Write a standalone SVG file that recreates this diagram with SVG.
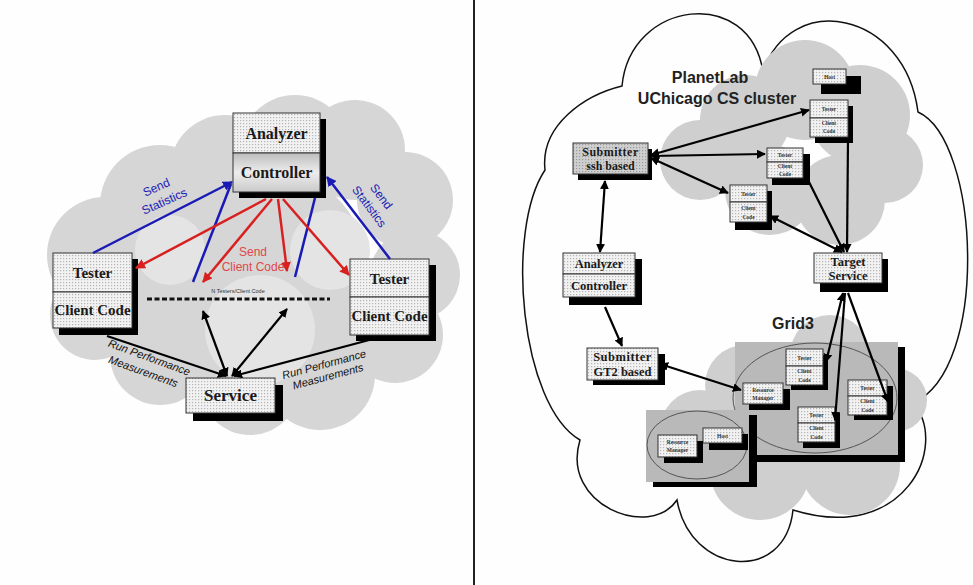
<svg xmlns="http://www.w3.org/2000/svg" width="973" height="585" viewBox="0 0 973 585">
<defs>
<pattern id="dots" width="3" height="3" patternUnits="userSpaceOnUse"><rect width="3" height="3" fill="#f2f2f2"/><rect width="1.2" height="1.2" fill="#b4b4b4"/></pattern>
<pattern id="dotsD" width="3" height="3" patternUnits="userSpaceOnUse"><rect width="3" height="3" fill="#cfcfcf"/><rect width="1.2" height="1.2" fill="#9a9a9a"/></pattern>
<linearGradient id="ctrl" x1="0" y1="0" x2="0" y2="1"><stop offset="0" stop-color="#bdbdbd"/><stop offset="0.5" stop-color="#ededed"/><stop offset="1" stop-color="#c9c9c9"/></linearGradient>
<marker id="ab" viewBox="0 0 10 10" refX="9" refY="5" markerWidth="9" markerHeight="9" markerUnits="userSpaceOnUse" orient="auto-start-reverse"><path d="M0,0 L10,5 L0,10 z" fill="#000"/></marker>
<marker id="abl" viewBox="0 0 10 10" refX="9" refY="5" markerWidth="10" markerHeight="10" markerUnits="userSpaceOnUse" orient="auto"><path d="M0,0 L10,5 L0,10 z" fill="#1a1ab4"/></marker>
<marker id="ar" viewBox="0 0 10 10" refX="9" refY="5" markerWidth="10" markerHeight="10" markerUnits="userSpaceOnUse" orient="auto"><path d="M0,0 L10,5 L0,10 z" fill="#d82020"/></marker>
</defs>
<style>
.box{fill:url(#dots);stroke:#333;stroke-width:1}
.boxd{fill:url(#dotsD);stroke:#333;stroke-width:1}
.sh{fill:#000}
.big{font-family:"Liberation Serif",serif;font-weight:bold;fill:#1a1a1a;text-anchor:middle}
.sm{font-family:"Liberation Serif",serif;font-weight:bold;fill:#333;text-anchor:middle;font-size:5.5px}
.lbl{font-family:"Liberation Sans",Arial,sans-serif;text-anchor:middle}
.blue{stroke:#1a1ab4;stroke-width:2.5;fill:none}
.red{stroke:#d82020;stroke-width:2.5;fill:none}
.blk{stroke:#000;stroke-width:2.2;fill:none}
.cl{fill:#d6d6d6}
.cl2{fill:#e4e4e4}
.cg{fill:#cfcfcf}
</style>
<rect width="973" height="585" fill="#fdfefd"/>

<!-- left cloud -->
<g id="left-cloud">
<circle class="cl" cx="105" cy="255" r="58"/>
<circle class="cl" cx="160" cy="205" r="60"/>
<circle class="cl" cx="225" cy="170" r="55"/>
<circle class="cl" cx="295" cy="150" r="55"/>
<circle class="cl" cx="355" cy="150" r="50"/>
<circle class="cl" cx="405" cy="200" r="48"/>
<circle class="cl" cx="415" cy="275" r="45"/>
<circle class="cl" cx="395" cy="335" r="48"/>
<circle class="cl" cx="320" cy="375" r="55"/>
<circle class="cl" cx="250" cy="385" r="50"/>
<circle class="cl" cx="160" cy="355" r="50"/>
<circle class="cl" cx="95" cy="315" r="45"/>
<circle class="cl" cx="250" cy="280" r="120"/>
<circle class="cl2" cx="260" cy="330" r="55"/>
<circle class="cl2" cx="330" cy="250" r="40"/>
<circle class="cl2" cx="170" cy="250" r="35"/>
</g>

<!-- divider -->
<line x1="474" y1="0" x2="474" y2="585" stroke="#222" stroke-width="2"/>

<!-- right outlined cloud -->
<path id="right-cloud" d="M545,170 C540,125 585,95 622,86 C630,0 750,-15 763,72 C790,-10 905,10 918,112 C980,140 990,370 913,403 C950,445 905,545 793,510 C785,585 690,575 677,500 C650,540 560,505 580,440 C520,405 505,230 545,170 Z" fill="#fdfefd" stroke="#111" stroke-width="1.5"/>
<g id="planetlab-cloud">
<circle class="cg" cx="700" cy="160" r="40"/>
<circle class="cg" cx="745" cy="120" r="45"/>
<circle class="cg" cx="805" cy="90" r="50"/>
<circle class="cg" cx="860" cy="115" r="50"/>
<circle class="cg" cx="885" cy="165" r="38"/>
<circle class="cg" cx="840" cy="200" r="45"/>
<circle class="cg" cx="770" cy="190" r="45"/>
</g>
<g id="grid3-cloud">
<circle class="cg" cx="700" cy="430" r="40"/>
<circle class="cg" cx="760" cy="470" r="50"/>
<circle class="cg" cx="850" cy="465" r="50"/>
<circle class="cg" cx="895" cy="400" r="32"/>
<circle class="cg" cx="830" cy="355" r="40"/>
<circle class="cg" cx="745" cy="385" r="40"/>
</g>

<!-- LEFT NODES -->
<g id="analyzer-controller">
<rect class="sh" x="239" y="119" width="87" height="79"/>
<rect class="box" x="233" y="113" width="87" height="40"/>
<rect x="233" y="153" width="87" height="39" fill="url(#ctrl)" stroke="#333"/>
<text class="big" x="276.5" y="139" font-size="16">Analyzer</text>
<text class="big" x="276.5" y="178" font-size="16">Controller</text>
</g>
<g id="tester-left">
<rect class="sh" x="59" y="259" width="79" height="76"/>
<rect class="box" x="53" y="253" width="79" height="39"/>
<rect class="box" x="53" y="292" width="79" height="36"/>
<text class="big" x="92.5" y="278" font-size="15">Tester</text>
<text class="big" x="92.5" y="315" font-size="15">Client Code</text>
</g>
<g id="tester-right">
<rect class="sh" x="356" y="265" width="80" height="76"/>
<rect class="box" x="350" y="259" width="79" height="38"/>
<rect class="box" x="350" y="297" width="79" height="38"/>
<text class="big" x="389.5" y="284" font-size="15">Tester</text>
<text class="big" x="389.5" y="321" font-size="15">Client Code</text>
</g>
<g id="service">
<rect class="sh" x="193" y="385" width="90" height="36"/>
<rect class="box" x="186" y="378" width="89" height="35"/>
<text class="big" x="230.5" y="401" font-size="17">Service</text>
</g>
<g id="n-testers">
<line x1="147" y1="299" x2="330" y2="299" stroke="#111" stroke-width="3" stroke-dasharray="5,2.5"/>
<text class="lbl" x="238" y="293" font-size="5.5" fill="#333">N Testers/Client Code</text>
</g>

<!-- LEFT CONNECTORS -->
<g id="left-connectors">
<line class="blue" x1="93" y1="253" x2="232" y2="182" marker-end="url(#abl)"/>
<line class="blue" x1="193" y1="282" x2="231" y2="184"/>
<line class="blue" x1="295" y1="277" x2="315" y2="198"/>
<line class="blue" x1="390" y1="259" x2="327" y2="177" marker-end="url(#abl)"/>
<line class="red" x1="266" y1="199" x2="136" y2="268" marker-end="url(#ar)"/>
<line class="red" x1="272" y1="199" x2="203" y2="282" marker-end="url(#ar)"/>
<line class="red" x1="278" y1="199" x2="287" y2="271" marker-end="url(#ar)"/>
<line class="red" x1="283" y1="199" x2="349" y2="275" marker-end="url(#ar)"/>
<line class="blk" x1="107" y1="336" x2="226" y2="376" marker-end="url(#ab)"/>
<line class="blk" x1="373" y1="339" x2="234" y2="376" marker-end="url(#ab)"/>
<line class="blk" x1="227" y1="376" x2="203" y2="311" marker-start="url(#ab)" marker-end="url(#ab)"/>
<line class="blk" x1="232" y1="376" x2="287" y2="309" marker-start="url(#ab)" marker-end="url(#ab)"/>
<g class="lbl" font-size="12" fill="#1a1ab4">
<text transform="translate(158,191) rotate(-24)">Send</text>
<text transform="translate(166,205) rotate(-24)">Statistics</text>
<text transform="translate(378,199) rotate(53)">Send</text>
<text transform="translate(366,209) rotate(53)">Statistics</text>
</g>
<g class="lbl" font-size="12" fill="#e04848">
<text x="253" y="256">Send</text>
<text x="253" y="271">Client Code</text>
</g>
<g class="lbl" font-size="11" fill="#111" font-style="italic">
<text transform="translate(148,361) rotate(20)">Run Performance</text>
<text transform="translate(142,375) rotate(20)">Measurements</text>
<text transform="translate(325,368) rotate(-15)">Run Performance</text>
<text transform="translate(329,380) rotate(-15)">Measurements</text>
</g>
</g>

<!-- RIGHT PANEL -->
<g id="grid3-area">
<rect class="sh" x="742" y="347" width="163" height="115"/>
<rect x="735" y="342" width="163" height="113" fill="#b9b9b9"/>
<ellipse cx="815" cy="398" rx="82" ry="55" fill="none" stroke="#555" stroke-width="1"/>
<text class="lbl" x="793" y="329" font-size="16" font-weight="bold" fill="#222">Grid3</text>
</g>
<g id="site2-area">
<rect class="sh" x="653" y="415" width="104" height="72"/>
<rect x="646" y="410" width="103" height="72" fill="#b9b9b9"/>
<ellipse cx="697" cy="445" rx="50" ry="34" fill="none" stroke="#555" stroke-width="1"/>
</g>
<g class="lbl" font-size="16" font-weight="bold" fill="#222" id="planetlab-label">
<text x="710" y="83">PlanetLab</text>
<text x="717" y="104">UChicago CS cluster</text>
</g>

<g id="host-top">
<rect class="sh" x="821" y="76" width="40" height="18"/>
<rect class="box" x="813" y="69" width="33" height="15"/>
<text class="sm" x="829.5" y="79">Host</text>
</g>
<g id="tester-pl1">
<rect class="sh" x="815" y="106" width="38" height="37"/>
<rect class="box" x="810" y="100" width="38" height="18"/>
<rect class="box" x="810" y="118" width="38" height="19"/>
<text class="sm" x="829" y="111">Tester</text>
<text class="sm" x="829" y="125">Client</text>
<text class="sm" x="829" y="133">Code</text>
</g>
<g id="tester-pl2">
<rect class="sh" x="772" y="154" width="38" height="31"/>
<rect class="box" x="767" y="148" width="36" height="14"/>
<rect class="box" x="767" y="162" width="36" height="16"/>
<text class="sm" x="785" y="157">Tester</text>
<text class="sm" x="785" y="168">Client</text>
<text class="sm" x="785" y="176">Code</text>
</g>
<g id="tester-pl3">
<rect class="sh" x="735" y="191" width="37" height="39"/>
<rect class="box" x="730" y="185" width="37" height="17"/>
<rect class="box" x="730" y="202" width="37" height="20"/>
<text class="sm" x="748.5" y="196">Tester</text>
<text class="sm" x="748.5" y="210">Client</text>
<text class="sm" x="748.5" y="219">Code</text>
</g>
<g id="submitter-ssh">
<rect class="sh" x="578" y="149" width="74" height="31"/>
<rect class="boxd" x="573" y="143" width="75" height="31"/>
<text class="big" x="610.5" y="156" font-size="12" letter-spacing="0.5">Submitter</text>
<text class="big" x="610.5" y="170" font-size="12">ssh based</text>
</g>
<g id="analyzer-controller-r">
<rect class="sh" x="569" y="259" width="73" height="46"/>
<rect class="box" x="563" y="253" width="72" height="21"/>
<rect class="box" x="563" y="274" width="72" height="23"/>
<text class="big" x="599" y="268" font-size="12.5">Analyzer</text>
<text class="big" x="599" y="290" font-size="12.5">Controller</text>
</g>
<g id="target-service">
<rect class="sh" x="820" y="259" width="68" height="33"/>
<rect class="box" x="814" y="253" width="68" height="30"/>
<text class="big" x="848" y="266" font-size="12.5">Target</text>
<text class="big" x="848" y="280" font-size="12.5">Service</text>
</g>
<g id="submitter-gt2">
<rect class="sh" x="593" y="354" width="72" height="31"/>
<rect class="box" x="587" y="348" width="71" height="32"/>
<text class="big" x="622.5" y="361" font-size="12.5" letter-spacing="0.5">Submitter</text>
<text class="big" x="622.5" y="376" font-size="12.5">GT2 based</text>
</g>
<g id="rm-grid3">
<rect class="sh" x="749" y="389" width="41" height="21"/>
<rect class="box" x="743" y="383" width="40" height="21"/>
<text class="sm" x="763" y="392">Resource</text>
<text class="sm" x="763" y="400">Manager</text>
</g>
<g id="tester-g1">
<rect class="sh" x="791" y="355" width="37" height="35"/>
<rect class="box" x="786" y="349" width="37" height="17"/>
<rect class="box" x="786" y="366" width="37" height="19"/>
<text class="sm" x="804.5" y="360">Tester</text>
<text class="sm" x="804.5" y="373">Client</text>
<text class="sm" x="804.5" y="382">Code</text>
</g>
<g id="tester-g2">
<rect class="sh" x="854" y="386" width="39" height="34"/>
<rect class="box" x="848" y="380" width="39" height="16"/>
<rect class="box" x="848" y="396" width="39" height="19"/>
<text class="sm" x="867.5" y="390">Tester</text>
<text class="sm" x="867.5" y="403">Client</text>
<text class="sm" x="867.5" y="412">Code</text>
</g>
<g id="tester-g3">
<rect class="sh" x="803" y="413" width="37" height="35"/>
<rect class="box" x="798" y="407" width="37" height="16"/>
<rect class="box" x="798" y="423" width="37" height="19"/>
<text class="sm" x="816.5" y="417">Tester</text>
<text class="sm" x="816.5" y="430">Client</text>
<text class="sm" x="816.5" y="439">Code</text>
</g>
<g id="host-site2">
<rect class="sh" x="709" y="434" width="39" height="16"/>
<rect class="box" x="703" y="428" width="39" height="15"/>
<text class="sm" x="722.5" y="438">Host</text>
</g>
<g id="rm-site2">
<rect class="sh" x="664" y="441" width="39" height="22"/>
<rect class="box" x="658" y="435" width="39" height="22"/>
<text class="sm" x="677.5" y="444">Resource</text>
<text class="sm" x="677.5" y="452">Manager</text>
</g>

<!-- RIGHT CONNECTORS -->
<g id="right-connectors" class="blk" stroke-width="2.5">
<line x1="605" y1="181" x2="600" y2="252" marker-start="url(#ab)" marker-end="url(#ab)"/>
<line x1="651" y1="155" x2="809" y2="110" marker-start="url(#ab)" marker-end="url(#ab)"/>
<line x1="651" y1="156" x2="765" y2="154" marker-start="url(#ab)" marker-end="url(#ab)"/>
<line x1="651" y1="158" x2="728" y2="193" marker-start="url(#ab)" marker-end="url(#ab)"/>
<line x1="848" y1="139" x2="847" y2="252" marker-end="url(#ab)"/>
<line x1="808" y1="180" x2="844" y2="252" marker-end="url(#ab)"/>
<line x1="770" y1="216" x2="842" y2="252" marker-start="url(#ab)" marker-end="url(#ab)"/>
<line x1="605" y1="307" x2="622" y2="346" marker-end="url(#ab)"/>
<line x1="660" y1="364" x2="741" y2="390" marker-start="url(#ab)" marker-end="url(#ab)"/>
<line x1="843" y1="293" x2="826" y2="362" marker-start="url(#ab)" marker-end="url(#ab)"/>
<line x1="845" y1="293" x2="835" y2="420" marker-end="url(#ab)"/>
<line x1="848" y1="293" x2="888" y2="402" marker-end="url(#ab)"/>
</g>
</svg>
